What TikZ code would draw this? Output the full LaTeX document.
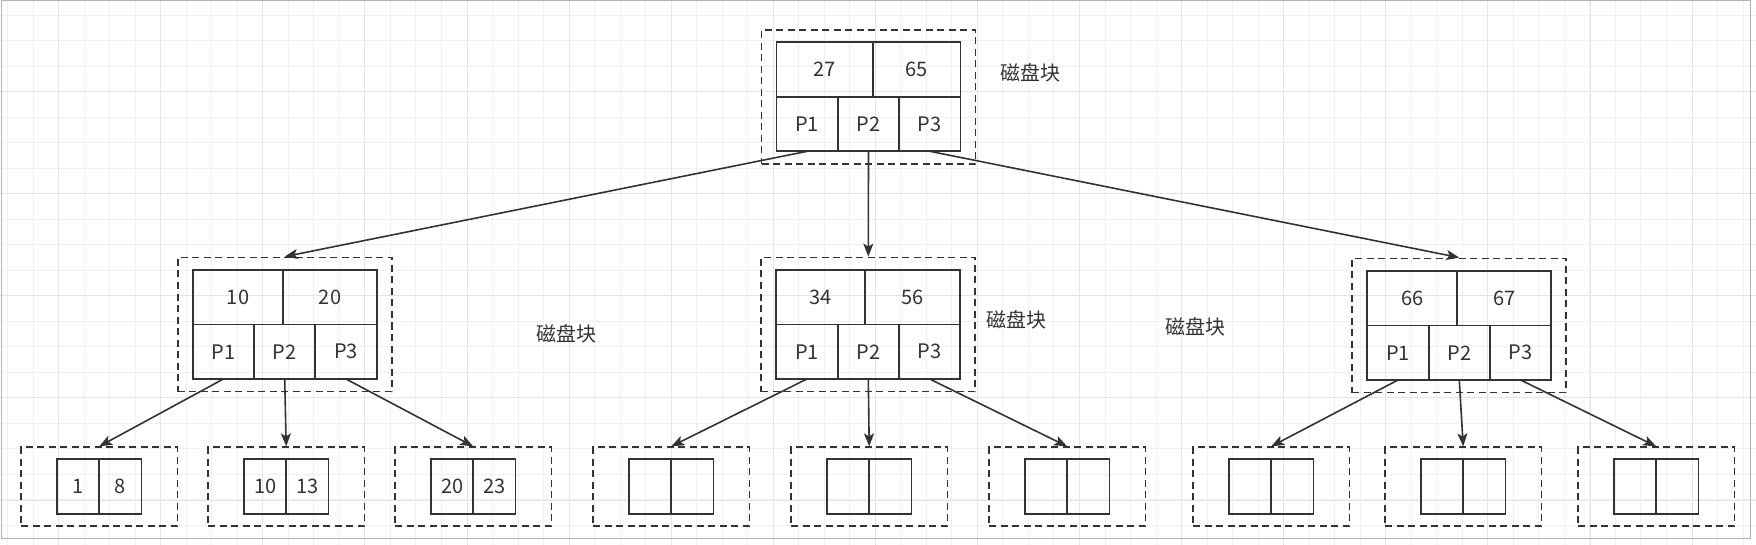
\documentclass[tikz,border=0pt]{standalone}
\usepackage{fontspec}
\setmainfont{Noto Sans CJK SC}
\usetikzlibrary
  {
    arrows.meta,   % Stealth arrow heads
    positioning,   % place cells next to each other
    fit,           % dashed disk block around its cells
    backgrounds,   % grid behind the tree
  }
\definecolor{ink}{HTML}{333333}

\begin{document}
\begin{tikzpicture}
    [
      x=1pt, y=-1pt,
      font=\fontsize{20}{24}\selectfont,
      cell/.style=
        {
          rectangle,
          draw=ink,
          text=ink,
          line width=1.8pt,
          minimum height=54.5pt,
          inner sep=0pt,
          outer sep=0pt,
          anchor=north west,
        },
      keycell/.style={cell, minimum width=#1},
      ptrcell/.style={cell, minimum width=61.33pt},
      leafcell/.style={cell, minimum width=42.2pt},
      disk/.style=
        {
          rectangle,
          draw=ink,
          line width=1.8pt,
          dash pattern=on 7pt off 4.5pt,
          inner xsep=15pt,
          inner ysep=12.5pt,
        },
      leafdisk/.style={disk, inner xsep=36pt, inner ysep=12pt},
      tag/.style={text=ink},
      minorline/.style={color=black!6, line width=1pt},
      majorline/.style={color=black!10, line width=1pt},
      post/.style={-{Stealth[length=13pt, width=10pt, inset=3pt]}, draw=ink, line width=1.6pt},
    ]
    \useasboundingbox (0,0) rectangle (1756,545);

    % inner disk blocks: keys and pointers
    \foreach \name/\x/\y/\kw/\ka/\kb in
      {r/776.5/42.3/96.6/27/65, a/192.7/270/90.6/10/20,
       b/776.3/270/88.3/34/56, c/1367.3/271/90/66/67}
      {
        \node[keycell=\kw]                                (\name-k1) at (\x,\y) {\ka};
        \node[keycell={(184-\kw)*1pt}, right=0pt of \name-k1] (\name-k2) {\kb};
        \node[ptrcell]                 (\name-p1) at (\name-k1.south west) {P1};
        \node[ptrcell, right=0pt of \name-p1] (\name-p2) {P2};
        \node[ptrcell, right=0pt of \name-p2] (\name-p3) {P3};
        \node[disk, fit=(\name-k1) (\name-k2) (\name-p1) (\name-p3)] (\name) {};
      }

    % leaf disk blocks
    \foreach \name/\x/\ka/\kb in
      {l1/57/1/8, l2/244/10/13, l3/431/20/23, l4/629/{}/{}, l5/827/{}/{},
       l6/1025/{}/{}, l7/1229/{}/{}, l8/1421/{}/{}, l9/1614/{}/{}}
      {
        \node[leafcell]                        (\name-k1) at (\x,459.3) {\ka};
        \node[leafcell, right=0pt of \name-k1] (\name-k2) {\kb};
        \node[leafdisk, fit=(\name-k1) (\name-k2)] (\name) {};
      }

    \node[tag] (tag-r) at (1030.5,73)  {磁盘块};
    \node[tag] (tag-a) at (566.7,334)  {磁盘块};
    \node[tag] (tag-b) at (1016.5,320) {磁盘块};
    \node[tag] (tag-c) at (1195.5,327) {磁盘块};

    \foreach \from/\to in
      {r-p1/a, r-p2/b, r-p3/c,
       a-p1/l1, a-p2/l2, a-p3/l3,
       b-p1/l4, b-p2/l5, b-p3/l6,
       c-p1/l7, c-p2/l8, c-p3/l9}
      \draw[post] (\from.south) -- (\to.north);

    \begin{pgfonlayer}{background}
      \fill[white] (0,0) rectangle (1756,545);
      \foreach \i in {0,...,68}
        \draw[minorline] ({7.66+25.52*\i},0) -- ({7.66+25.52*\i},545);
      \foreach \i in {0,...,20}
        \draw[minorline] (0,{15.1+25.52*\i}) -- (1756,{15.1+25.52*\i});
      \foreach \i in {0,...,16}
        \draw[majorline] ({58.7+102.09*\i},0) -- ({58.7+102.09*\i},545);
      \foreach \i in {0,...,4}
        \draw[majorline] (0,{91.7+102.09*\i}) -- (1756,{91.7+102.09*\i});
      \draw[black!30, line width=1pt] (1,1) rectangle (1750.5,538.5);
    \end{pgfonlayer}
  \end{tikzpicture}
\end{document}
